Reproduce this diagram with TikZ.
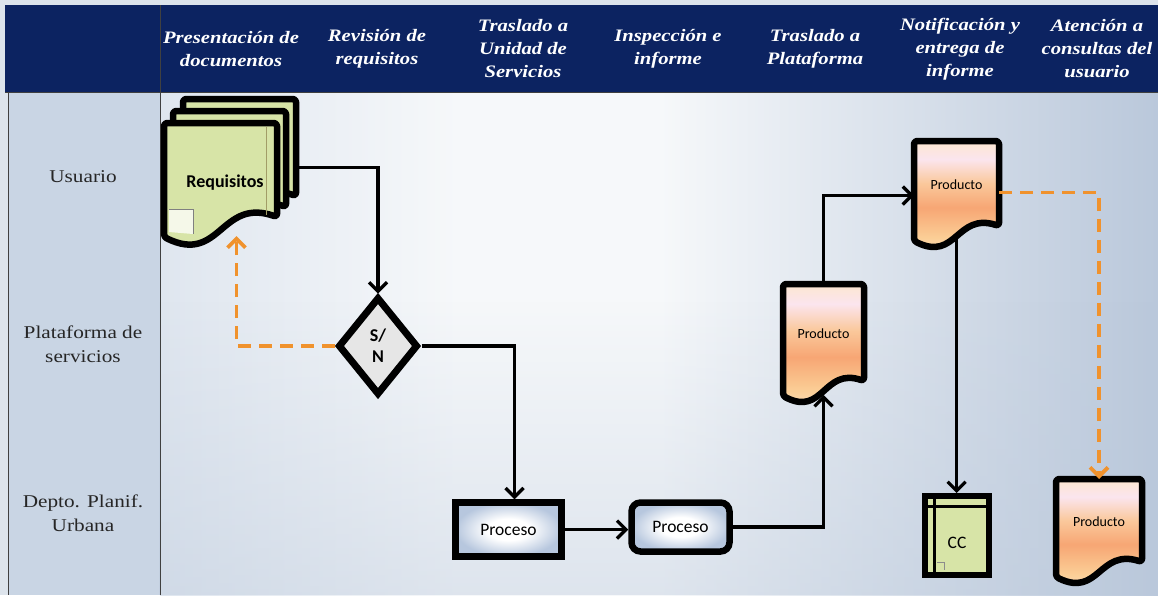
\documentclass[tikz,border=0pt]{standalone}
\usepackage{fontspec}
\setmainfont{Liberation Serif}[FakeStretch=1.18]
\newfontfamily\calfont{Carlito}
\usetikzlibrary{arrows.meta,shapes.geometric,calc,fadings}
\definecolor{navy}{RGB}{12,35,97}
\definecolor{lanebg}{RGB}{201,213,228}
\definecolor{outerbg}{RGB}{221,228,236}
\definecolor{bgL}{RGB}{223,230,239}
\definecolor{bgM}{RGB}{246,248,250}
\definecolor{bgR}{RGB}{186,200,219}
\definecolor{docgreen}{RGB}{215,228,167}
\definecolor{orangeline}{RGB}{240,146,45}
\definecolor{procB}{RGB}{183,199,222}
\definecolor{snfill}{RGB}{230,230,230}
\definecolor{pA}{RGB}{253,230,208}
\definecolor{pB}{RGB}{251,229,238}
\definecolor{pC}{RGB}{250,200,155}
\definecolor{pD}{RGB}{247,166,116}
\definecolor{pE}{RGB}{251,206,150}
\definecolor{pF}{RGB}{253,228,204}
\pgfdeclarehorizontalshading{mainbg}{100bp}{color(0bp)=(bgL); color(25bp)=(bgL); color(40bp)=(bgM); color(50bp)=(bgM); color(75bp)=(bgR); color(100bp)=(bgR)}
\pgfdeclareverticalshading{prodshade}{100bp}{color(0bp)=(pF); color(25bp)=(pF); color(35bp)=(pE); color(47.5bp)=(pD); color(57.5bp)=(pC); color(67.5bp)=(pB); color(75bp)=(pA); color(100bp)=(pA)}
\pgfdeclareradialshading{procshade}{\pgfpoint{0bp}{0bp}}{color(0bp)=(white); color(10bp)=(white); color(25bp)=(procB); color(50bp)=(procB)}
\pgfdeclarelayer{bglayer}
\pgfdeclarelayer{shplayer}
\pgfsetlayers{bglayer,shplayer,main}
\newcommand\docshape[6]{\path[#1] (#2.north west) -- (#2.north east) -- ([yshift=#4]#2.south east) .. controls ([yshift=#5]#2.south) and ([yshift=-#6]#2.south) .. ([yshift=-#3]#2.south west) -- cycle;}
\tikzset{
 hdr/.style={text=white, font=\bfseries\itshape\fontsize{17.5}{23}\selectfont, align=center, inner sep=0pt},
 lane/.style={font=\fontsize{18}{24}\selectfont, align=center, text=black!85},
 docnode/.style={inner sep=0pt, outer sep=0pt, draw=none},
 prodtext/.style={font=\calfont\fontsize{14}{16}\selectfont},
 docline/.style={draw=black, line width=6.5pt, rounded corners=3pt, line join=round},
 conn/.style={draw=black, line width=3.2pt, -{Straight Barb[length=9pt,width=18pt]}},
 dconn/.style={draw=orangeline, line width=3.8pt, dash pattern=on 13pt off 8pt, -{Straight Barb[length=9pt,width=18pt]}},
 procbox/.style={draw=black, line width=6.5pt, shade, shading=procshade, inner sep=0pt, font=\calfont\fontsize{17.5}{20}\selectfont},
}
\begin{document}
\begin{tikzpicture}[x=1pt,y=-1pt]
\useasboundingbox (0,0) rectangle (1158,595);
\begin{pgfonlayer}{bglayer}
 \fill[outerbg] (0,0) rectangle (1158,595);
 \fill[navy] (5,5) rectangle (1158,92);
 \fill[lanebg] (8,92) rectangle (160,595);
 \shade[shading=mainbg] (160,92) rectangle (1158,595);
 \fill[bgR, path fading=north, fill opacity=0.4] (160,300) rectangle (1158,595);
 \draw[black!75, line width=1pt] (8,92) -- (8,595) (160,5) -- (160,595) (5,92) -- (1158,92);
\end{pgfonlayer}
% headers
\node[hdr] (h1) at (231,49) {Presentación de\\documentos};
\node[hdr] (h2) at (377,49) {Revisión de\\requisitos};
\node[hdr] (h3) at (523,49) {Traslado a\\Unidad de\\Servicios};
\node[hdr] (h4) at (668,49) {Inspección e\\informe};
\node[hdr] (h5) at (815,49) {Traslado a\\Plataforma};
\node[hdr] (h6) at (960,49) {Notificación y\\entrega de\\informe};
\node[hdr] (h7) at (1097,49) {Atención a\\consultas del\\usuario};
% lanes
\node[lane] (l1) at (83,177) {Usuario};
\node[lane] (l2) at (83,344) {Plataforma de\\servicios};
\node[lane] (l3) at (83,513) {Depto. Planif.\\Urbana};
% document nodes
\node[docnode, minimum width=113pt, minimum height=107pt] (reqc) at (239.5,152.5) {};
\node[docnode, minimum width=113pt, minimum height=106pt] (reqb) at (229.5,164) {};
\node[docnode, minimum width=113pt, minimum height=104pt, font=\calfont\bfseries\fontsize{18}{20}\selectfont] (req) at (220.5,175) {\raisebox{-12pt}[0pt][0pt]{\hspace{9pt}Requisitos}};
\node[docnode, minimum width=81pt, minimum height=105pt, prodtext] (prod1) at (823.5,336.5) {\raisebox{-1.5pt}[0pt][0pt]{Producto}};
\node[docnode, minimum width=85pt, minimum height=93pt, prodtext] (prod2) at (956.5,187.5) {\raisebox{-1.5pt}[0pt][0pt]{Producto}};
\node[docnode, minimum width=86pt, minimum height=91pt, prodtext] (prod3) at (1099,524.5) {\raisebox{-1.5pt}[0pt][0pt]{Producto}};
\begin{pgfonlayer}{shplayer}
 \docshape{docline, fill=docgreen}{reqc}{10pt}{10pt}{30pt}{38pt}
 \docshape{docline, fill=docgreen}{reqb}{10pt}{10pt}{30pt}{38pt}
 \docshape{docline, fill=docgreen}{req}{10pt}{10pt}{30pt}{38pt}
 \draw[black!40!olive!60, line width=0.8pt] ([xshift=-11pt,yshift=-4pt]req.north east) -- ([xshift=-11pt,yshift=12pt]req.south east);
 \fill[white!75!docgreen] ([xshift=5pt,yshift=18pt]req.south west) -- ([xshift=29pt,yshift=18pt]req.south west) -- ([xshift=29pt,yshift=-7pt]req.south west) -- ([xshift=5pt,yshift=-5pt]req.south west) -- cycle;
 \draw[black!50, line width=0.8pt] ([xshift=5pt,yshift=18pt]req.south west) -- ([xshift=29pt,yshift=18pt]req.south west) -- ([xshift=29pt,yshift=-7pt]req.south west);
 \docshape{docline, shade, shading=prodshade}{prod1}{7pt}{8pt}{22pt}{28pt}
 \docshape{docline, shade, shading=prodshade}{prod2}{7pt}{8pt}{22pt}{28pt}
 \docshape{docline, shade, shading=prodshade}{prod3}{7pt}{8pt}{22pt}{28pt}
\end{pgfonlayer}
% decision and processes
\node[diamond, draw=black, line width=7pt, fill=snfill, minimum width=80pt, minimum height=98pt, inner sep=0pt, align=center, font=\calfont\bfseries\fontsize{18}{21}\selectfont] (sn) at (378,346) {S/\\N};
\node[procbox, minimum width=106pt, minimum height=54pt] (p1) at (508.5,529.5) {Proceso};
\node[procbox, minimum width=98pt, minimum height=49pt, rounded corners=9pt] (p2) at (680.5,527) {Proceso};
\node[draw=black, line width=6pt, fill=docgreen, minimum width=64pt, minimum height=79pt, inner sep=0pt, font=\calfont\fontsize{17.5}{20}\selectfont] (cc) at (957,535.5) {\raisebox{-13pt}[0pt][0pt]{CC}};
\draw[line width=3pt] ([xshift=12pt,yshift=-3pt]cc.north west) -- ([xshift=12pt,yshift=3pt]cc.south west);
\draw[line width=3pt] ([xshift=3pt,yshift=-13pt]cc.north west) -- ([xshift=-3pt,yshift=-13pt]cc.north east);
\draw[black!45, line width=0.7pt] ([xshift=15pt,yshift=16pt]cc.south west) -- ([xshift=22pt,yshift=16pt]cc.south west) -- ([xshift=22pt,yshift=8pt]cc.south west);
% connectors
\draw[conn] ([yshift=-15pt]reqc.east) -| (sn.north);
\draw[dconn] (sn.west) -| ([xshift=16pt,yshift=-9pt]req.south);
\draw[conn] (sn.east) -| ([xshift=6pt]p1.north);
\draw[conn] (p1.east) -- (p1.east -| p2.west);
\draw[conn] (p2.east) -| ([yshift=-6pt]prod1.south);
\draw[conn] (prod1.north) |- ([yshift=-8pt]prod2.west);
\draw[dconn] ([yshift=-5pt]prod2.east) -| (prod3.north);
\draw[conn] (prod2.south) -- (prod2.south |- cc.north);
\end{tikzpicture}
\end{document}
